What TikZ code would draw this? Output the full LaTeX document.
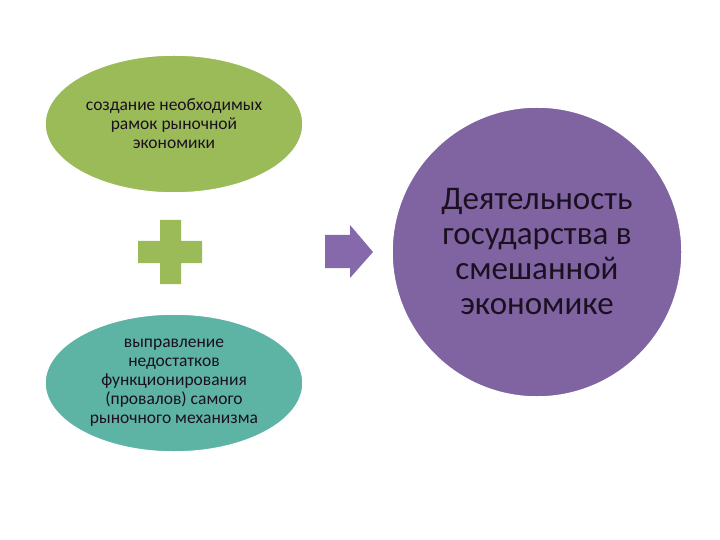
\documentclass[tikz,border=0pt]{standalone}
\usepackage{fontspec}
\setmainfont{Carlito}
\usetikzlibrary{shapes.geometric}
\definecolor{cgreen}{HTML}{9BBB59}
\definecolor{cteal}{HTML}{5DB3A4}
\definecolor{cpurple}{HTML}{8064A2}
\definecolor{carrow}{HTML}{8569AA}
\definecolor{ctext}{HTML}{1A1020}
\tikzset{
  blob/.style={ellipse, draw=white, line width=1.5bp, minimum width=258bp, minimum height=138bp, inner sep=0pt, align=center, text=ctext, font=\fontsize{17.5bp}{19bp}\selectfont},
  bigcircle/.style={circle, draw=white, line width=1.5bp, minimum size=290bp, inner sep=0pt, align=center, text=ctext, font=\fontsize{33bp}{35bp}\selectfont}
}
\begin{document}
\begin{tikzpicture}[x=1bp,y=-1bp]
\useasboundingbox (0,0) rectangle (720,540);
\fill[white] (0,0) rectangle (720,540);
\node[blob, fill=cgreen] (top) at (174,124) {создание необходимых\\рамок рыночной\\экономики};
\node[blob, fill=cteal] (bottom) at (174,383) {выправление\\недостатков\\функционирования\\(провалов) самого\\рыночного механизма};
\fill[cgreen] (160,220) -- (181,220) -- (181,241) -- (202,241) -- (202,263) -- (181,263) -- (181,284) -- (160,284) -- (160,263) -- (138,263) -- (138,241) -- (160,241) -- cycle;
\fill[carrow] (325,235) -- (350,235) -- (350,225) -- (373,252) -- (350,278) -- (350,268) -- (325,268) -- cycle;
\node[bigcircle, fill=cpurple] (goal) at (537,252) {Деятельность\\государства в\\смешанной\\экономике};
\end{tikzpicture}
\end{document}
